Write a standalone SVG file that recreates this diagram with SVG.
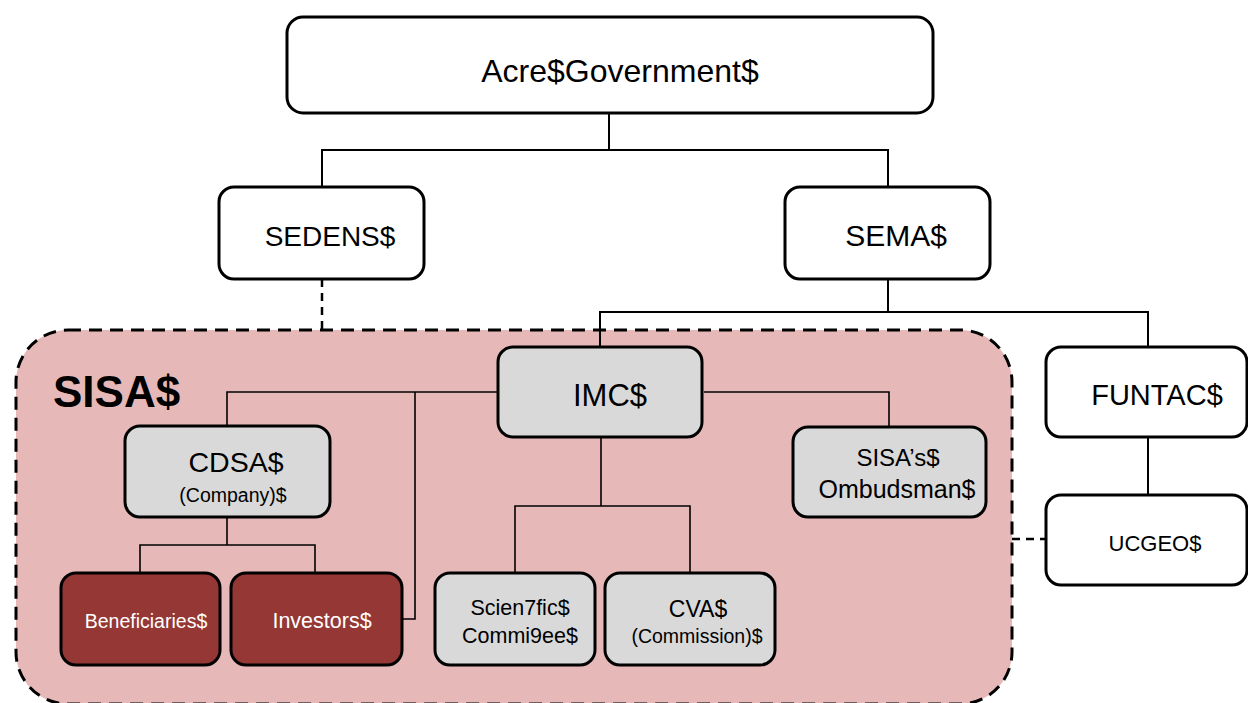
<svg xmlns="http://www.w3.org/2000/svg" width="1248" height="703" viewBox="0 0 1248 703">
<style>
text{font-family:"Liberation Sans",Arial,sans-serif;fill:#000;text-anchor:middle}
.box{fill:#fff;stroke:#000;stroke-width:3}
.gray{fill:#d9d9d9;stroke:#000;stroke-width:3}
.red{fill:#953735;stroke:#000;stroke-width:3}
.wt{fill:#fff}
.line{fill:none;stroke:#000;stroke-width:2}
.thin{fill:none;stroke:#000;stroke-width:1.6}
.dash{fill:none;stroke:#000;stroke-width:2.5;stroke-dasharray:8 6}
</style>
<rect width="1248" height="703" fill="#fff"/>
<g id="sisa">
<rect x="16" y="330" width="996" height="374" rx="52" ry="52" fill="#e6b9b8" stroke="#000" stroke-width="3" stroke-dasharray="13 8"/>
<text x="53" y="407" style="text-anchor:start;font-weight:bold;font-size:44px">SISA$</text>
</g>
<g id="connectors">
<polyline class="line" points="609,113 609,150"/>
<polyline class="line" points="322,187 322,150 888,150 888,187"/>
<polyline class="line" points="888,279 888,312"/>
<polyline class="line" points="600,347 600,312 1148,312 1148,347"/>
<polyline class="line" points="1148,437 1148,495"/>
<polyline class="thin" points="498,392 227,392 227,426"/>
<polyline class="thin" points="415,392 415,619 402,619"/>
<polyline class="thin" points="704,392 889,392 889,427"/>
<polyline class="thin" points="601,437 601,506"/>
<polyline class="thin" points="515,573 515,506 690,506 690,573"/>
<polyline class="thin" points="227,517 227,545"/>
<polyline class="thin" points="140,573 140,545 315,545 315,573"/>
<polyline class="dash" points="322,279 322,330"/>
<polyline class="dash" points="1012,539 1046,539"/>
</g>
<g id="acre">
<rect class="box" x="287" y="17" width="646" height="96" rx="16"/>
<text x="620" y="82" font-size="32">Acre$Government$</text>
</g>
<g id="sedens">
<rect class="box" x="219" y="187" width="205" height="92" rx="15"/>
<text x="330" y="246" font-size="28">SEDENS$</text>
</g>
<g id="sema">
<rect class="box" x="785" y="187" width="205" height="92" rx="15"/>
<text x="896" y="246" font-size="30">SEMA$</text>
</g>
<g id="imc">
<rect class="gray" x="498" y="347" width="204" height="90" rx="15"/>
<text x="610" y="406" font-size="31">IMC$</text>
</g>
<g id="funtac">
<rect class="box" x="1046" y="347" width="201" height="90" rx="15"/>
<text x="1157" y="405" font-size="29">FUNTAC$</text>
</g>
<g id="ucgeo">
<rect class="box" x="1046" y="495" width="201" height="90" rx="15"/>
<text x="1155" y="551" font-size="22">UCGEO$</text>
</g>
<g id="cdsa">
<rect class="gray" x="125" y="426" width="205" height="91" rx="15"/>
<text x="236" y="472" font-size="28.5">CDSA$</text>
<text x="233" y="502" font-size="19.5">(Company)$</text>
</g>
<g id="ombudsman">
<rect class="gray" x="793" y="427" width="193" height="90" rx="15"/>
<text x="898" y="466" font-size="24">SISA’s$</text>
<text x="897" y="498" font-size="25">Ombudsman$</text>
</g>
<g id="beneficiaries">
<rect class="red" x="61" y="573" width="159" height="92" rx="15"/>
<text class="wt" x="146" y="628" font-size="19.5">Beneficiaries$</text>
</g>
<g id="investors">
<rect class="red" x="231" y="573" width="171" height="92" rx="15"/>
<text class="wt" x="322" y="628" font-size="21.5">Investors$</text>
</g>
<g id="scientific">
<rect class="gray" x="435" y="573" width="160" height="92" rx="15"/>
<text x="520" y="615" font-size="21.5">Scien7fic$</text>
<text x="520" y="643" font-size="21.5">Commi9ee$</text>
</g>
<g id="cva">
<rect class="gray" x="605" y="573" width="170" height="92" rx="15"/>
<text x="698" y="617" font-size="23">CVA$</text>
<text x="697" y="643" font-size="19.5">(Commission)$</text>
</g>
</svg>
